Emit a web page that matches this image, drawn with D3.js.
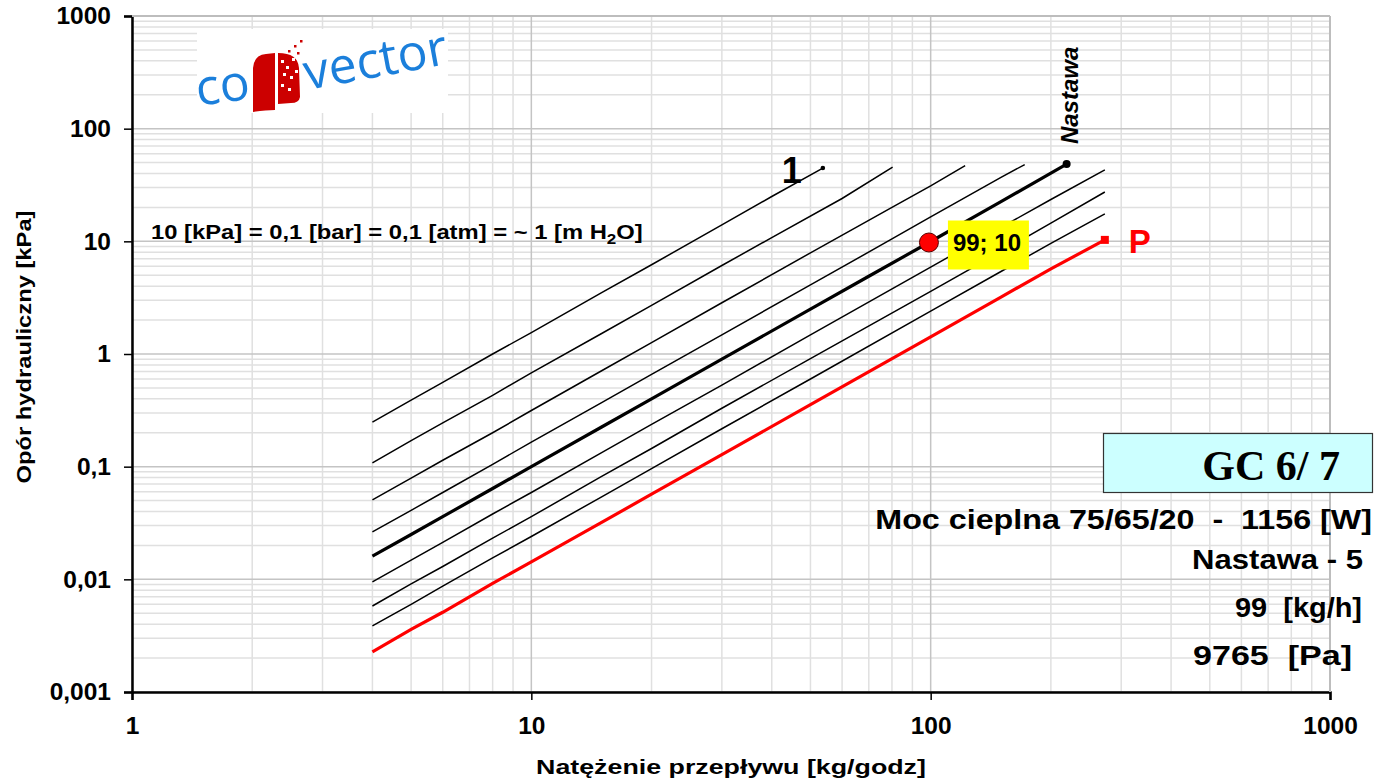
<!DOCTYPE html>
<html>
<head>
<meta charset="utf-8">
<script src="https://cdn.jsdelivr.net/npm/d3@7"></script>
<style>
  body { margin: 0; background: #fff; }
  svg { display: block; font-family: "Liberation Sans", Arial, sans-serif; }
</style>
</head>
<body>
<svg id="vis-svg" width="1377" height="780"></svg>
<script>
// flow [kg/h] vs pressure drop [kPa], one array per valve setting
var nastawa1 = [[4,0.249],[5,0.39],[6,0.56],[8,1.0],[10,1.55],[15,3.5],[20,6.2],[30,14],[40,25],[53.7,44.7]];
var nastawa2 = [[4,0.108],[5,0.17],[6,0.245],[8,0.43],[10,0.68],[15,1.52],[20,2.7],[30,6.1],[40,10.8],[60,24],[80.3,45.6]];
var nastawa3 = [[4,0.0507],[5,0.079],[6,0.114],[8,0.2],[10,0.315],[15,0.71],[20,1.26],[30,2.85],[50,7.9],[80,20],[100,31],[122,47]];
var nastawa4 = [[4,0.0264],[5,0.041],[6,0.059],[8,0.105],[10,0.165],[15,0.37],[20,0.66],[30,1.48],[50,4.1],[80,10.5],[100,16.5],[150,37],[172,48]];
var nastawa5 = [[4,0.0161],[5,0.025],[6,0.036],[8,0.064],[10,0.1],[15,0.225],[20,0.4],[30,0.9],[50,2.5],[70,4.9],[99,9.765],[150,22.5],[219,48.5]];
var nastawa6 = [[4,0.0095],[5,0.0148],[6,0.0213],[8,0.038],[10,0.059],[15,0.133],[20,0.237],[30,0.53],[50,1.48],[100,5.9],[150,13.3],[200,23.5],[273,43]];
var nastawa7 = [[4,0.0058],[5,0.0091],[6,0.013],[8,0.0232],[10,0.036],[15,0.082],[20,0.145],[30,0.33],[50,0.91],[100,3.6],[150,8.1],[200,14.5],[273,27.4]];
var nastawa8 = [[4,0.00386],[5,0.006],[6,0.0087],[8,0.0155],[10,0.024],[15,0.054],[20,0.096],[30,0.217],[50,0.6],[100,2.4],[150,5.4],[200,9.6],[273,17.5]];
var nastawaP = [[4,0.00227],[5,0.0036],[6,0.0051],[8,0.0092],[10,0.0143],[15,0.032],[20,0.057],[30,0.128],[50,0.355],[100,1.42],[150,3.2],[200,5.7],[273,10.3]];

var workPoint = [99, 9.765]; // selected point: 99 kg/h, 9765 Pa
var xTicks = [1, 10, 100, 1000];
var yTicks = [0.001, 0.01, 0.1, 1, 10, 100, 1000];
var infoLines = ["Moc cieplna 75/65/20  -  1156 [W]", "Nastawa - 5", "99  [kg/h]", "9765  [Pa]"];

// plot area in page pixels
var margin = {top: 16, right: 47, bottom: 88, left: 132},
  width = 1377 - margin.left - margin.right,
  height = 780 - margin.top - margin.bottom;

var svg = d3.select("#vis-svg");
var g = svg.append("g").attr("transform", "translate(" + margin.left + "," + margin.top + ")");

var x = d3.scaleLog().domain([1, 1000]).range([0, width]);
var y = d3.scaleLog().domain([0.001, 1000]).range([height, 0]);

function comma(d) { return String(d).replace(".", ","); }

// the original text is a bit wider than Arial, stretch it horizontally
function stretch(sel, w, ax) {
  var k = w / sel.node().getBBox().width;
  sel.attr("transform", "translate(" + ax + ",0) scale(" + k + ",1) translate(" + (-ax) + ",0)");
}

// minor grid (2..9 in every decade)
var minorX = [], minorY = [];
[1, 10, 100].forEach(function(dec) { for (var k = 2; k < 10; k++) minorX.push(k * dec); });
[0.001, 0.01, 0.1, 1, 10, 100].forEach(function(dec) { for (var k = 2; k < 10; k++) minorY.push(k * dec); });

g.selectAll(".gx").data(minorX).enter().append("line")
  .attr("x1", function(d) { return x(d); }).attr("x2", function(d) { return x(d); })
  .attr("y1", 0).attr("y2", height)
  .style("stroke", "#e0e0e0").style("stroke-width", 1.5);
g.selectAll(".gy").data(minorY).enter().append("line")
  .attr("y1", function(d) { return y(d); }).attr("y2", function(d) { return y(d); })
  .attr("x1", 0).attr("x2", width)
  .style("stroke", "#e0e0e0").style("stroke-width", 1.5);
// major grid
g.selectAll(".mx").data(xTicks).enter().append("line")
  .attr("x1", function(d) { return x(d); }).attr("x2", function(d) { return x(d); })
  .attr("y1", 0).attr("y2", height)
  .style("stroke", "#c4c4c4").style("stroke-width", 1.5);
g.selectAll(".my").data(yTicks).enter().append("line")
  .attr("y1", function(d) { return y(d); }).attr("y2", function(d) { return y(d); })
  .attr("x1", 0).attr("x2", width)
  .style("stroke", "#c4c4c4").style("stroke-width", 1.5);

// logo on a white patch
svg.append("rect").attr("x", 197).attr("y", 29).attr("width", 251).attr("height", 84).style("fill", "#fff");
var logo = svg.append("g");
logo.append("text").attr("transform", "translate(198,106) rotate(-8)").text("co")
  .style("font-family", "'Open Sans', sans-serif").style("font-size", "50px").style("fill", "#1b7fdb");
logo.append("path")
  .attr("d", "M253,112 L253,68 Q254,55 266,54 L275,53 L275,110 Q266,110 253,112 Z")
  .style("fill", "#cc0000");
logo.append("path")
  .attr("d", "M278,53 Q298,53 299,68 L300,97 Q299,103 291,103 L278,104 Z")
  .style("fill", "#cc0000");
var specks = [[281,60],[286,66],[292,58],[283,73],[290,76],[295,70],[281,84],[288,88]];
logo.selectAll(".speck").data(specks).enter().append("rect")
  .attr("x", function(d) { return d[0]; }).attr("y", function(d) { return d[1]; })
  .attr("width", 3).attr("height", 3).style("fill", "#fff");
var dots = [[288,50],[294,45],[300,40],[297,52]];
logo.selectAll(".dot").data(dots).enter().append("rect")
  .attr("x", function(d) { return d[0]; }).attr("y", function(d) { return d[1]; })
  .attr("width", 2.5).attr("height", 2.5).style("fill", "#cc0000");
logo.append("text").attr("transform", "translate(307,90) rotate(-10.5)").text("vector")
  .style("font-family", "'Open Sans', sans-serif").style("font-size", "50px").style("fill", "#1b7fdb");

// axes
var yAxis = g.append("g")
  .call(d3.axisLeft(y).tickValues(yTicks).tickFormat(comma).tickSize(8).tickPadding(13));
var xAxis = g.append("g").attr("transform", "translate(0," + height + ")")
  .call(d3.axisBottom(x).tickValues(xTicks).tickFormat(comma).tickSize(8).tickPadding(17));
[xAxis, yAxis].forEach(function(a) {
  a.select(".domain").style("stroke", "#000").style("stroke-width", 2.5);
  a.selectAll(".tick line").style("stroke", "#000").style("stroke-width", 1.5);
  a.selectAll(".tick text").style("font-family", "'Liberation Sans', Arial, sans-serif")
    .style("font-size", "24.5px").style("font-weight", "bold").style("fill", "#000");
});
// grey top / right frame
g.append("line").attr("x1", 0).attr("x2", width).attr("y1", 0).attr("y2", 0).style("stroke", "#bdbdbd").style("stroke-width", 2);
g.append("line").attr("x1", width).attr("x2", width).attr("y1", 0).attr("y2", height).style("stroke", "#bdbdbd").style("stroke-width", 2);

// axis titles
svg.append("text").attr("transform", "translate(31,347) rotate(-90)")
  .attr("textLength", 273).attr("lengthAdjust", "spacingAndGlyphs")
  .style("text-anchor", "middle").style("font-size", "21px").style("font-weight", "bold")
  .text("Opór hydrauliczny [kPa]");
var xt = svg.append("text").attr("x", 731).attr("y", 774)
  .style("text-anchor", "middle").style("font-size", "21px").style("font-weight", "bold")
  .text("Natężenie przepływu [kg/godz]");
stretch(xt, 390, 731);

// curves
var line = d3.line().x(function(d) { return x(d[0]); }).y(function(d) { return y(d[1]); });
var curves = [nastawa1, nastawa2, nastawa3, nastawa4, nastawa6, nastawa7, nastawa8];
g.selectAll(".curve").data(curves).enter().append("path")
  .attr("d", line)
  .style("fill", "none").style("stroke", "#000").style("stroke-width", 1.5);
g.append("path").attr("d", line(nastawa5))
  .style("fill", "none").style("stroke", "#000").style("stroke-width", 3.2);
g.append("path").attr("d", line(nastawaP))
  .style("fill", "none").style("stroke", "#ff0000").style("stroke-width", 3.2);

// end markers
var e1 = nastawa1[nastawa1.length - 1], e5 = nastawa5[nastawa5.length - 1], eP = nastawaP[nastawaP.length - 1];
g.append("circle").attr("cx", x(e1[0])).attr("cy", y(e1[1])).attr("r", 2.3).style("fill", "#000");
g.append("circle").attr("cx", x(e5[0])).attr("cy", y(e5[1])).attr("r", 4).style("fill", "#000");
g.append("rect").attr("x", x(eP[0]) - 4).attr("y", y(eP[1]) - 4).attr("width", 8).attr("height", 8).style("fill", "#ff0000");

// labels on curves
g.append("text").attr("x", x(e1[0]) - 31).attr("y", y(e1[1]) + 15)
  .style("text-anchor", "middle").style("font-size", "36px").style("font-weight", "bold").text("1");
g.append("text").attr("transform", "translate(" + (x(e5[0]) + 11) + "," + (y(e5[1]) - 20) + ") rotate(-90)")
  .style("font-size", "24px").style("font-weight", "bold").style("font-style", "italic").text("Nastawa");
g.append("text").attr("x", x(eP[0]) + 24).attr("y", y(eP[1]) + 13)
  .style("font-size", "33px").style("font-weight", "bold").style("fill", "#ff0000").text("P");

// working point
var wx = x(workPoint[0]), wy = y(workPoint[1]);
g.append("circle").attr("cx", wx).attr("cy", wy).attr("r", 9.5)
  .style("fill", "#ff0000").style("stroke", "#5a0000").style("stroke-width", 1);
g.append("rect").attr("x", wx + 19).attr("y", wy - 22).attr("width", 81).attr("height", 49).style("fill", "#ffff00");
g.append("text").attr("x", wx + 24).attr("y", wy + 9)
  .style("font-size", "24px").style("font-weight", "bold")
  .text(Math.round(workPoint[0]) + "; " + Math.round(workPoint[1]));

// unit note
var note = svg.append("text").attr("x", 151).attr("y", 239).style("font-size", "21px").style("font-weight", "bold")
  .html("10 [kPa] = 0,1 [bar] = 0,1 [atm] = ~ 1 [m H<tspan dy='5' font-size='15px'>2</tspan><tspan dy='-5'>O]</tspan>");
stretch(note, 492, 151);

// model box and info
svg.append("rect").attr("x", 1103.5).attr("y", 433.5).attr("width", 269).attr("height", 59)
  .style("fill", "#ccffff").style("stroke", "#333").style("stroke-width", 1.2);
svg.append("text").attr("x", 1340).attr("y", 480).style("text-anchor", "end")
  .style("font-family", "'Liberation Serif', 'Times New Roman', serif").style("font-size", "42px").style("font-weight", "bold")
  .text("GC 6/ 7");
var infoX = [1372, 1363, 1362, 1352], infoY = [529, 569, 617, 665], infoW = [497, 171, 127, 159];
svg.selectAll(".info").data(infoLines).enter().append("text")
  .attr("x", function(d, i) { return infoX[i]; })
  .attr("y", function(d, i) { return infoY[i]; })
  .style("text-anchor", "end").style("font-size", "27.5px").style("font-weight", "bold")
  .style("white-space", "pre").attr("xml:space", "preserve")
  .text(function(d) { return d; })
  .each(function(d, i) { stretch(d3.select(this), infoW[i], infoX[i]); });
</script>
</body>
</html>
